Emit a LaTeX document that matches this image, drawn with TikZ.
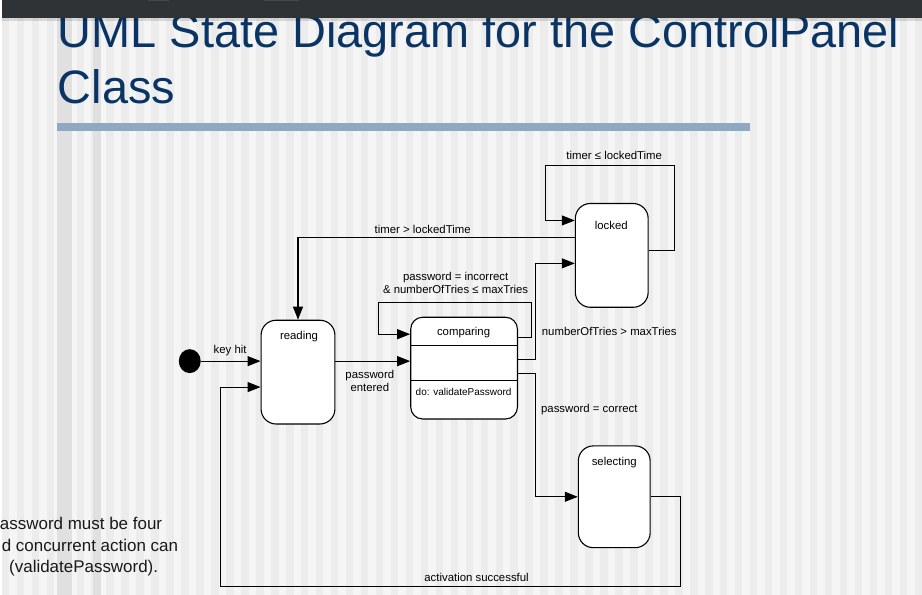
\documentclass[tikz,border=0pt]{standalone}
\usepackage{fontspec}
\setmainfont{Liberation Sans}
\usetikzlibrary{arrows.meta,shapes.geometric}

\definecolor{barDark}{RGB}{48,51,54}
\definecolor{barMark}{RGB}{70,73,76}
\definecolor{bgLight}{RGB}{245,245,245}
\definecolor{bgStripe}{RGB}{236,236,236}
\definecolor{bgDeep}{RGB}{224,224,224}
\definecolor{titleBlue}{RGB}{10,52,100}
\definecolor{ruleBlue}{RGB}{143,168,195}

\begin{document}
\begin{tikzpicture}[x=1pt,y=-1pt,
  statebox/.style={draw=black, line width=1.1pt, fill=white, rounded corners=15pt,
                   inner sep=0pt},
  tr/.style={draw=black, line width=1.1pt, -{Triangle[length=13pt,width=10pt]}},
  wire/.style={draw=black, line width=1.1pt},
  lbl/.style={font=\fontsize{11.4}{13}\selectfont, inner sep=0pt, text=black},
  smalllbl/.style={font=\fontsize{10}{12}\selectfont, inner sep=0pt, text=black},
  titletext/.style={font=\fontsize{47}{56}\selectfont, inner sep=0pt, text=titleBlue,
                    anchor=base west},
  notetext/.style={font=\fontsize{17}{21}\selectfont, inner sep=0pt, text=black!90,
                   anchor=base east},
]
% ---- slide background with vertical stripes ----
\fill[bgLight] (0,0) rectangle (922,596);
\foreach \i in {0,...,61}
  \fill[bgStripe] (\i*15,0) rectangle (\i*15+7.5,596);
\fill[bgDeep] (55,18) rectangle (70,596);
\fill[bgDeep] (92,18) rectangle (100,596);

% ---- title ----
\node[titletext] (titleA) at (56,48) {UML State Diagram for the ControlPanel};
\node[titletext] (titleB) at (56,104) {Class};
\fill[ruleBlue] (55,123) rectangle (750,131);

% ---- window bar across the top ----
\fill[barDark] (0,0) rectangle (922,18);
\fill[black, opacity=0.12] (0,18) rectangle (922,21);
\fill[barMark] (147,0) rectangle (168,1.5);
\fill[barMark] (263,0) rectangle (298,1.5);

% ---- side note ----
\node[notetext] (noteA) at (161,531) {assword must be four};
\node[notetext] (noteB) at (177,553) {d concurrent action can};
\node[notetext] (noteC) at (157,574) {(validatePassword).};

% ---- states ----
\node[ellipse, fill=black, minimum width=22pt, minimum height=24pt, inner sep=0pt]
  (init) at (188.5,362) {};
\node[statebox, minimum width=74pt, minimum height=104pt] (reading) at (297,373) {};
\node[statebox, rounded corners=12pt, minimum width=107pt, minimum height=102pt]
  (comparing) at (463.5,369) {};
\node[statebox, minimum width=73pt, minimum height=104pt] (locked) at (611.5,256) {};
\node[statebox, minimum width=72pt, minimum height=102pt] (selecting) at (614,498) {};

% compartments of the comparing state
\coordinate (divA) at (0,346);
\coordinate (divB) at (0,381);
\draw[wire] (comparing.west |- divA) -- (comparing.east |- divA);
\draw[wire] (comparing.west |- divB) -- (comparing.east |- divB);

% state names
\node[lbl] (readingName) at (298,337) {reading};
\node[lbl] (comparingName) at (463,333) {comparing};
\node[lbl] (lockedName) at (611,226) {locked};
\node[lbl] (selectingName) at (614,464) {selecting};
\node[smalllbl] (doAct) at (463,392.5) {do: validatePassword};

% ---- routing points ----
\coordinate (yLoopOut) at (0,338);
\coordinate (yLoopIn)  at (0,335);
\coordinate (loopNE)   at (531,303);
\coordinate (loopNW)   at (378,303);
\coordinate (yTries)   at (0,360);
\coordinate (triesUp)  at (535,264);
\coordinate (yCorrect) at (0,374);
\coordinate (corrDown) at (535,498);
\coordinate (yLkOut)   at (0,251);
\coordinate (yLkIn)    at (0,221);
\coordinate (lkNE)     at (674,166);
\coordinate (lkNW)     at (545,166);
\coordinate (yTimeout) at (0,238);
\coordinate (actSE)    at (680,588);
\coordinate (actSW)    at (219,588);
\coordinate (yAct)     at (0,388);

% ---- transitions ----
\draw[tr] (init.east) -- (init.east -| reading.west);
\draw[tr] (reading.east |- init) -- (comparing.west |- init);
\draw[tr] (comparing.east |- yLoopOut) -| (loopNE) -- (loopNW)
          |- (comparing.west |- yLoopIn);
\draw[tr] (comparing.east |- yTries) -| (triesUp) -- (locked.west |- triesUp);
\draw[tr] (comparing.east |- yCorrect) -| (corrDown) -- (selecting.west |- corrDown);
\draw[tr] (locked.east |- yLkOut) -| (lkNE) -- (lkNW) |- (locked.west |- yLkIn);
\draw[tr] (locked.west |- yTimeout) -| (reading.north);
\draw[tr] (selecting.east) -| (actSE) -- (actSW) |- (reading.west |- yAct);

% ---- transition labels ----
\node[lbl] (lblKey) at (229,351) {key hit};
\node[lbl, align=center] (lblEntered) at (369,381.5) {password\\entered};
\node[lbl, align=center] (lblIncorrect) at (455,283.5)
  {password = incorrect\\\& numberOfTries ≤ maxTries};
\node[lbl] (lblTimeout) at (422,230) {timer > lockedTime};
\node[lbl] (lblWait) at (614,156) {timer ≤ lockedTime};
\node[lbl] (lblTries) at (609,332) {numberOfTries > maxTries};
\node[lbl] (lblCorrect) at (589,411) {password = correct};
\node[lbl] (lblAct) at (476,579) {activation successful};
\end{tikzpicture}
\end{document}
